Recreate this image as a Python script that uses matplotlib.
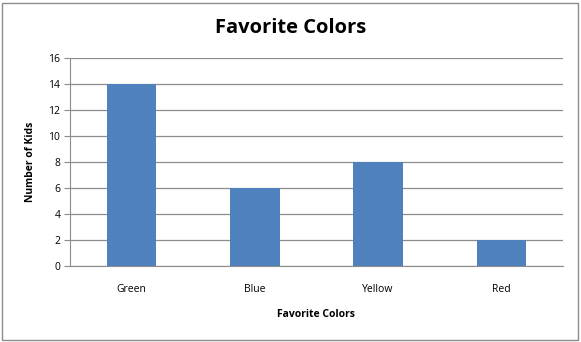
import matplotlib
matplotlib.use('Agg')
import matplotlib.pyplot as plt
from matplotlib.patches import Rectangle

categories = ['Green', 'Blue', 'Yellow', 'Red']
kids = [14, 6, 8, 2]
yticks = [0, 2, 4, 6, 8, 10, 12, 14, 16]

plt.rcParams['font.family'] = ['Open Sans', 'DejaVu Sans']

fig = plt.figure(figsize=(5.81, 3.42), dpi=100)
ax = fig.add_axes([0.1205, 0.222, 0.8485, 0.608])

# outer chart border
fig.patches.append(Rectangle((0.004, 0.006), 0.99, 0.985, transform=fig.transFigure,
                             fill=False, edgecolor='#8c8c8c', linewidth=1.0))

ax.bar(range(len(categories)), kids, width=0.4, color='#4f81bd', zorder=3)

ax.set_xlim(-0.5, len(categories) - 0.5)
ax.set_ylim(0, 16)
ax.set_yticks(yticks)
ax.set_xticks(range(len(categories)))
ax.set_xticklabels(categories)
ax.yaxis.grid(True, color='#8c8c8c', linewidth=0.9, zorder=0)

for s in ['top', 'right']:
    ax.spines[s].set_visible(False)
ax.spines['left'].set_color('#8c8c8c')
ax.spines['bottom'].set_color('#8c8c8c')
ax.tick_params(axis='y', length=4, color='#8c8c8c', labelsize=7.5, pad=3)
ax.tick_params(axis='x', length=0, labelsize=7.5, pad=13)

ax.set_ylabel('Number of Kids', fontsize=7.5, fontweight='bold', labelpad=9)
ax.set_xlabel('Favorite Colors', fontsize=7.5, fontweight='bold', labelpad=10)
fig.suptitle('Favorite Colors', fontsize=14.5, fontweight='bold', y=0.918, va='center')

fig.savefig('out.png', dpi=100)
